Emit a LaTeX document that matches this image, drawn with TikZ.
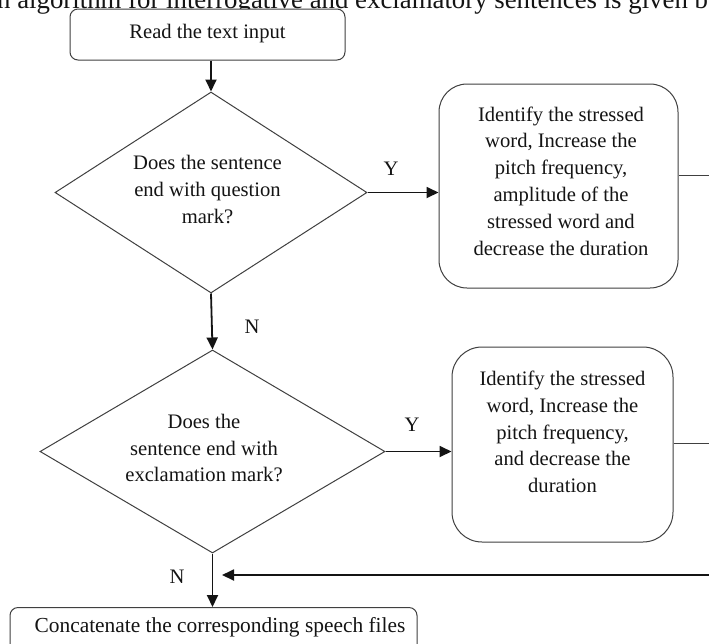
\documentclass[tikz,border=0pt]{standalone}
\usepackage{fontspec}
\setmainfont{Liberation Serif}
\usetikzlibrary{shapes.geometric,arrows.meta}

\tikzset{
  body/.style={font=\fontsize{20.6}{26.8}\selectfont, text=black!92, inner sep=0pt, align=center},
  outline/.style={draw=black!75, line width=1pt, inner sep=0pt},
  procbox/.style={outline, fill=white, rectangle, rounded corners=#1},
  decision/.style={outline, diamond},
  flow/.style={line width=1.8pt, draw=black!92, -{Triangle[length=12pt,width=11pt]}},
  plain/.style={line width=1pt, draw=black!75},
  answer/.style={font=\fontsize{20.6}{24}\selectfont, text=black!92, inner sep=0pt},
}

\begin{document}
\begin{tikzpicture}[x=1pt, y=-1pt]
  \useasboundingbox (0,0) rectangle (709,643);
  \clip (0,0) rectangle (709,643);
  \fill[white] (0,0) rectangle (709,643);

  % running text of the page above the chart
  \node[anchor=base west, inner sep=0pt, text=black!92,
        font=\fontsize{26.8}{30}\selectfont] (headline) at (-3,8)
        {n algorithm for interrogative and exclamatory sentences is given b};

  % process boxes
  \node[procbox=8pt, minimum width=275pt, minimum height=51pt] (start) at (207.5,34.5) {};
  \node[body] (starttext) at (207.5,34) {Read the text input};

  \node[procbox=28pt, minimum width=239pt, minimum height=204pt] (act1) at (558.5,186) {};
  \node[body] (act1text) at (561,181)
    {Identify the stressed\\word, Increase the\\pitch frequency,\\amplitude of the\\stressed word and\\decrease the duration};

  \node[procbox=30pt, minimum width=221pt, minimum height=195pt] (act2) at (562.5,444.5) {};
  \node[body] (act2text) at (562.5,432)
    {Identify the stressed\\word, Increase the\\pitch frequency,\\and decrease the\\duration};

  \node[procbox=8pt, minimum width=407pt, minimum height=80pt, anchor=north] (concat) at (213.5,607) {};
  \node[body, anchor=base, font=\fontsize{21.4}{26}\selectfont] (concattext) at (220,632)
    {Concatenate the corresponding speech files};

  % decisions
  \node[decision, minimum width=312pt, minimum height=201pt] (ask1) at (211,192.5) {};
  \node[body] (ask1text) at (207.5,189.5) {Does the sentence\\end with question\\mark?};

  \node[decision, minimum width=345pt, minimum height=203pt] (ask2) at (212.5,451.5) {};
  \node[body] (ask2text) at (204,448) {Does the\\sentence end with\\exclamation mark?};

  % branch labels
  \node[answer] (y1) at (391,169) {Y};
  \node[answer] (n1) at (252,327) {N};
  \node[answer] (y2) at (412,425) {Y};
  \node[answer] (n2) at (177,577) {N};

  % loose ends running off the right edge
  \coordinate (out1) at (715,175);
  \coordinate (out2) at (715,443);
  \coordinate (back) at (715,575);
  \coordinate (merge) at (222,575);

  % connectors
  \draw[flow] (start.south -| ask1.north) -- (ask1.north);
  \draw[flow] (ask1.east) -- (ask1.east -| act1.west);
  \draw[plain] (out1 -| act1.east) -- (out1);
  \draw[flow] (ask1.south) -- (ask2.north);
  \draw[flow] (ask2.east) -- (ask2.east -| act2.west);
  \draw[plain] (out2 -| act2.east) -- (out2);
  \draw[flow] (ask2.south) -- (ask2.south |- concat.north);
  \draw[flow] (back) -- (merge);
\end{tikzpicture}
\end{document}
